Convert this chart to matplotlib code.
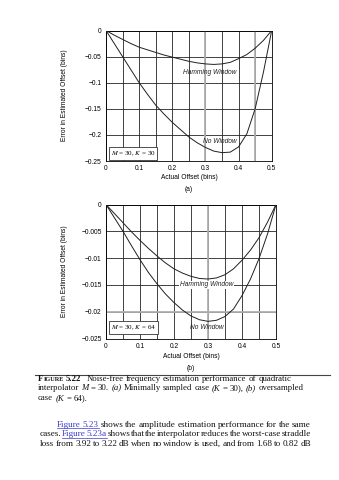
import numpy as np
import matplotlib.pyplot as plt

plt.rcParams['font.family'] = ['Liberation Sans', 'DejaVu Sans']
plt.rcParams['mathtext.fontset'] = 'stix'

# ----- data
offset = [0, 0.025, 0.05, 0.075, 0.1, 0.125, 0.15, 0.175, 0.2, 0.225, 0.25,
          0.275, 0.3, 0.325, 0.35, 0.375, 0.4, 0.425, 0.45, 0.475, 0.5]

# (a) M = 30, K = 30
nowin_a = [0, -0.025, -0.05, -0.075, -0.1, -0.122, -0.143, -0.16, -0.176, -0.19, -0.204,
           -0.215, -0.224, -0.231, -0.234, -0.233, -0.223, -0.198, -0.15, -0.08, 0]
hamm_a = [0, -0.009, -0.017, -0.025, -0.032, -0.037, -0.042, -0.047, -0.051, -0.055, -0.059,
          -0.062, -0.064, -0.065, -0.064, -0.061, -0.054, -0.046, -0.034, -0.019, 0]

# (b) M = 30, K = 64
nowin_b = [0, -0.0025, -0.005, -0.0077, -0.0103, -0.0127, -0.0148, -0.0167, -0.0183, -0.0197, -0.0208,
           -0.0215, -0.0218, -0.0216, -0.0209, -0.0195, -0.017, -0.0139, -0.0101, -0.0055, 0]
hamm_b = [0, -0.0017, -0.0034, -0.0051, -0.0067, -0.0082, -0.0096, -0.0109, -0.012, -0.0128, -0.0134,
          -0.0138, -0.0139, -0.0137, -0.0131, -0.012, -0.0104, -0.0085, -0.0062, -0.0033, 0]

xticks = [0, 0.1, 0.2, 0.3, 0.4, 0.5]
xlabels = ['0', '0.1', '0.2', '0.3', '0.4', '0.5']
yticks_a = [0, -0.05, -0.1, -0.15, -0.2, -0.25]
ylabels_a = ['0', '\u22120.05', '\u22120.1', '\u22120.15', '\u22120.2', '\u22120.25']
yticks_b = [0, -0.005, -0.01, -0.015, -0.02, -0.025]
ylabels_b = ['0', '\u22120.005', '\u22120.01', '\u22120.015', '\u22120.02', '\u22120.025']

W, H = 339, 480
fig = plt.figure(figsize=(W / 100, H / 100), dpi=100)
fig.patch.set_facecolor('white')


def pxbox(left, top, right, bottom):
    return [left / W, 1 - bottom / H, (right - left) / W, (bottom - top) / H]


def setup(ax, ylim, yt, yl, gray_x, gray_y):
    ax.set_xlim(0, 0.5)
    ax.set_ylim(ylim, 0)
    ax.set_xticks(xticks)
    ax.set_xticklabels(xlabels)
    ax.set_xticks(np.arange(0.05, 0.5, 0.1), minor=True)
    ax.set_yticks(yt)
    ax.set_yticklabels(yl)
    ax.tick_params(which='both', length=0, labelsize=4.8, pad=3)
    ax.grid(True, which='both', color='#222222', lw=0.6)
    for g in gray_x:
        ax.axvline(g, color='#b0b0b0', lw=1.3, zorder=1.5)
    for g in gray_y:
        ax.axhline(g, color='#b0b0b0', lw=1.3, zorder=1.5)
    for s in ax.spines.values():
        s.set_linewidth(0.6)
    ax.set_axisbelow(True)


# ----- (a)
ax1 = fig.add_axes(pxbox(106, 30.5, 271.7, 161))
setup(ax1, -0.25, yticks_a, ylabels_a, [0.3, 0.45], [])
ax1.plot(offset, nowin_a, color='#202020', lw=0.7, zorder=3)
ax1.plot(offset, hamm_a, color='#202020', lw=0.7, zorder=3)
ax1.text(0.314, -0.0814, 'Hamming Window', style='italic', fontsize=4.8,
         ha='center', va='center', color='#222222')
ax1.text(0.344, -0.2117, 'No Window', style='italic', fontsize=4.8,
         ha='center', va='center', color='#222222')
ax1.text(0.0815, -0.2356, r'$M$ = 30, $K$ = 30', family='Liberation Serif', fontsize=5,
         ha='center', va='center',
         bbox=dict(boxstyle='square,pad=0.3', fc='white', ec='#333333', lw=0.6))

# ----- (b)
ax2 = fig.add_axes(pxbox(106, 204.5, 276, 338.5))
setup(ax2, -0.025, yticks_b, ylabels_b, [0.3], [-0.02])
ax2.plot(offset, nowin_b, color='#202020', lw=0.7, zorder=3)
ax2.plot(offset, hamm_b, color='#202020', lw=0.7, zorder=3)
ax2.text(0.296, -0.015, 'Hamming Window', style='italic', fontsize=4.8,
         ha='center', va='center', color='#222222',
         bbox=dict(boxstyle='square,pad=0.1', fc='white', ec='none'))
ax2.text(0.296, -0.023, 'No Window', style='italic', fontsize=4.8,
         ha='center', va='center', color='#222222')
ax2.text(0.081, -0.02295, r'$M$ = 30, $K$ = 64', family='Liberation Serif', fontsize=5,
         ha='center', va='center',
         bbox=dict(boxstyle='square,pad=0.3', fc='white', ec='#333333', lw=0.6))


def ftext(x, y, s, **kw):
    return fig.text(x / W, 1 - y / H, s, **kw)


# ----- axis titles placed like the book page
ftext(64, 95.5, 'Error in Estimated Offset (bins)', rotation=90, fontsize=4.8,
      ha='center', va='center')
ftext(189, 177.5, 'Actual Offset (bins)', fontsize=4.8, ha='center', va='center')
ftext(189, 190, '(a)', fontsize=4.8, ha='center', va='center')
ftext(64, 271.5, 'Error in Estimated Offset (bins)', rotation=90, fontsize=4.8,
      ha='center', va='center')
ftext(191, 357, 'Actual Offset (bins)', fontsize=4.8, ha='center', va='center')
ftext(191, 369, '(b)', fontsize=4.8, ha='center', va='center')

# rule above caption
fig.add_artist(plt.Line2D([35 / W, 330 / W], [1 - 374.5 / H] * 2, color='#444444', lw=0.8))

# ----- caption and paragraph, placed word by word
fig.canvas.draw()
renderer = fig.canvas.get_renderer()
SERIF = 'Liberation Serif'
LINK = '#3b3bd0'


def put_line(words, x0, x1, y, size, justify=False):
    # word prefixes: '@' link, '_' italic, '^' small-caps bold piece glued to previous
    texts = []
    for w in words:
        link, ital, glue, bold = w.startswith('@'), w.startswith('_'), w.startswith('^'), w.startswith('*')
        fs = size * 0.72 if glue else size
        t = ftext(x0, y, w.lstrip('@_^*'), family=SERIF, fontsize=fs,
                  style='italic' if ital else 'normal',
                  weight='bold' if (bold or glue) else 'normal',
                  color=LINK if link else '#111111', ha='left', va='baseline')
        texts.append((t, link, glue))
    widths = [t.get_window_extent(renderer).width for t, _, _ in texts]
    space = size * 100 / 72 * 0.25
    if justify:
        space = (x1 - x0 - sum(widths)) / (len(texts) - 1)
    x = x0
    for i, ((t, link, glue), w) in enumerate(zip(texts, widths)):
        if glue:
            x -= space
        t.set_x(x / W)
        if link:
            ext = space if t.get_text() == 'Figure' else 0
            fig.add_artist(plt.Line2D([x / W, (x + w + ext) / W],
                                      [1 - (y + 1.3) / H] * 2, color=LINK, lw=0.5))
        x += w + space
        if t.get_text() == '5.22':
            x += 3


cs = 6.3
ps = 6.6
put_line(['*F', '^IGURE', '*5.22', 'Noise-free', 'frequency', 'estimation', 'performance', 'of',
          'quadratic'], 38, 295, 381, cs)
put_line(['interpolator', '_M', '=', '30.', '_(a)', 'Minimally', 'sampled', 'case', '_(K', '=',
          '30),', '_(b)', 'oversampled'], 38, 296, 390.5, cs)
put_line(['case', '_(K', '=', '64).'], 38, 100, 400, cs)

put_line(['@Figure', '@5.23', 'shows', 'the', 'amplitude', 'estimation', 'performance',
          'for', 'the', 'same'], 57, 311, 427, ps, True)
put_line(['cases.', '@Figure', '@5.23a', 'shows', 'that', 'the', 'interpolator', 'reduces',
          'the', 'worst-case', 'straddle'], 40, 311, 436.5, ps, True)
put_line(['loss', 'from', '3.92', 'to', '3.22', 'dB', 'when', 'no', 'window', 'is', 'used,',
          'and', 'from', '1.68', 'to', '0.82', 'dB'], 40, 311, 446, ps, True)

fig.savefig('out.png', dpi=100, facecolor='white')
